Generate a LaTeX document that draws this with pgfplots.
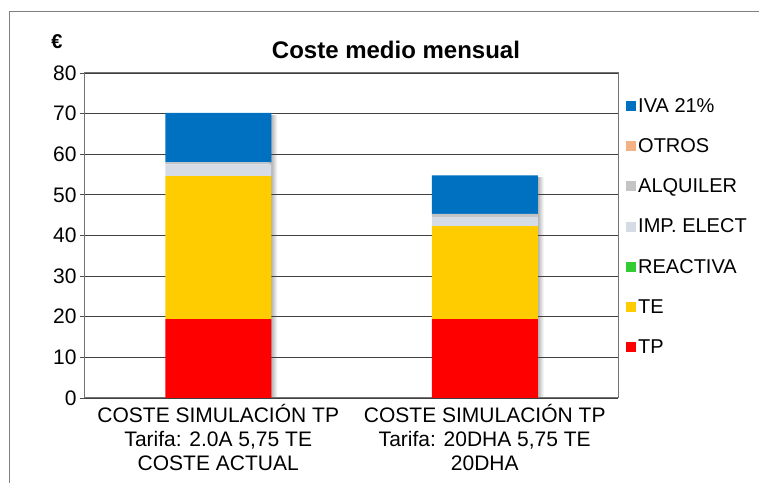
\documentclass[border=0pt]{standalone}
\usepackage{pgfplots}
\pgfplotsset{compat=1.18}
\usepackage{pgfplotstable}
\usepackage{fontspec}
\setmainfont{Liberation Sans}
\definecolor{cTP}{HTML}{FF0000}
\definecolor{cTE}{HTML}{FFCC00}
\definecolor{cREA}{HTML}{33CC33}
\definecolor{cIMP}{HTML}{D6DCE5}
\definecolor{cALQ}{HTML}{C4C4C4}
\definecolor{cOTR}{HTML}{F4B183}
\definecolor{cIVA}{HTML}{0070C0}
\pgfplotstableread{
x TP TE REACT IMP ALQ OTROS IVA TOT
0 19.4 35.2 0 2.9 0.5 0 12.2 70.2
1 19.4 22.9 0 2.2 0.8 0 9.5 54.8
}\datatable
\begin{document}
\begin{tikzpicture}[x=1bp,y=1bp]
\useasboundingbox (-85,-85) rectangle (674,398);
\draw[black!50, line width=1bp] (-75,-85) -- (-75,386) -- (680,386);
% shadow axis
\begin{axis}[scale only axis, width=533bp, height=325bp,
  at={(0,0)}, anchor=south west,
  xmin=-0.5, xmax=1.5, ymin=0, ymax=80,
  axis lines=none, ticks=none]
\addplot[ybar, bar width=8bp, bar shift=55bp, draw=none, left color=black!40, right color=white]
  coordinates {(0,69.6)};
\addplot[ybar, bar width=8bp, bar shift=55bp, draw=none, left color=black!40, right color=white]
  coordinates {(1,54.2)};
\end{axis}
\begin{axis}[scale only axis, width=533bp, height=325bp,
  at={(0,0)}, anchor=south west,
  ybar stacked, bar width=106bp,
  xmin=-0.5, xmax=1.5, ymin=0, ymax=80,
  ytick={0,10,...,80},
  xtick={0,1},
  xticklabels={{COSTE SIMULACIÓN TP\\Tarifa: 2.0A 5,75 TE\\COSTE ACTUAL},{COSTE SIMULACIÓN TP\\Tarifa: 20DHA 5,75 TE\\20DHA}},
  xticklabel style={align=center, font=\fontsize{21bp}{24bp}\selectfont, yshift=2bp},
  yticklabel style={font=\fontsize{21bp}{24bp}\selectfont},
  /pgf/number format/assume math mode=true,
  x tick style={draw=none},
  extra x ticks={-0.5,0.5,1.5},
  extra x tick labels={},
  extra x tick style={tick style={draw=black!60, thick}, major tick length=6bp},
  tick align=outside, major tick length=5bp,
  xtick pos=bottom, ytick pos=left,
  y tick style={black!70, thick},
  ymajorgrids, grid style={black!75, line width=0.8bp},
  axis line style={black!55, line width=1bp},
  legend cell align=left,
  reverse legend,
  legend style={at={(axis description cs:1,1)}, anchor=north west, xshift=7bp, yshift=-22bp, draw=none, fill=none,
    font=\fontsize{20bp}{24bp}\selectfont, row sep=20.8bp, inner sep=1bp},
  legend image code/.code={\fill[#1] (0bp,-5bp) rectangle (10bp,5bp);},
  every axis plot/.append style={draw=none},
]
\addplot[fill=cTP] table[x=x,y=TP] {\datatable};
\addplot[fill=cTE] table[x=x,y=TE] {\datatable};
\addplot[fill=cREA] table[x=x,y=REACT] {\datatable};
\addplot[fill=cIMP] table[x=x,y=IMP] {\datatable};
\addplot[fill=cALQ] table[x=x,y=ALQ] {\datatable};
\addplot[fill=cOTR] table[x=x,y=OTROS] {\datatable};
\addplot[fill=cIVA] table[x=x,y=IVA] {\datatable};
\legend{TP,TE,REACTIVA,IMP. ELECT,ALQUILER,OTROS,IVA 21\%}
\end{axis}
\draw (-28,356) node {\fontsize{20bp}{24bp}\selectfont\bfseries €};
\draw (311,348) node {\fontsize{24bp}{28bp}\selectfont\bfseries Coste medio mensual};
\end{tikzpicture}
\end{document}
